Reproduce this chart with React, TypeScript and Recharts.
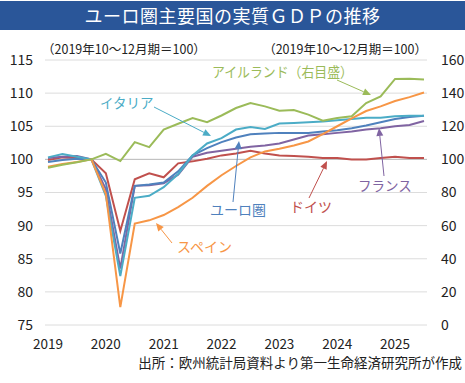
import { LineChart, Line, XAxis, YAxis, CartesianGrid, ReferenceLine } from "recharts";

// 2019Q1 .. 2025Q3, 2019年10～12月期＝100
const quarters = [
  "2019Q1", "2019Q2", "2019Q3", "2019Q4",
  "2020Q1", "2020Q2", "2020Q3", "2020Q4",
  "2021Q1", "2021Q2", "2021Q3", "2021Q4",
  "2022Q1", "2022Q2", "2022Q3", "2022Q4",
  "2023Q1", "2023Q2", "2023Q3", "2023Q4",
  "2024Q1", "2024Q2", "2024Q3", "2024Q4",
  "2025Q1", "2025Q2", "2025Q3",
];

const germany = [99.9, 100.3, 100.2, 100, 97.9, 89.2, 97, 97.9, 97.3, 99.4, 99.7, 100.1, 100.6, 100.9, 101.3, 100.9, 100.6, 100.5, 100.4, 100.2, 100.2, 100.0, 100.0, 100.2, 100.4, 100.2, 100.2];
const france = [100.2, 100.4, 100.5, 100, 95.5, 83.5, 96, 96.1, 96.4, 97.7, 100.4, 101, 101.3, 101.6, 101.9, 102.1, 102.4, 103, 103.6, 103.8, 104.0, 104.2, 104.5, 104.7, 105, 105.2, 105.8];
const euroArea = [99.6, 99.9, 100.1, 100, 96.5, 85.8, 96, 96.2, 96.5, 98.2, 100.6, 101.7, 102.6, 103.3, 103.8, 103.9, 104, 104, 104, 104.2, 104.4, 104.7, 105.1, 105.6, 106.1, 106.4, 106.6];
const italy = [100.3, 100.8, 100.4, 100, 94.5, 82.4, 94.2, 94.5, 95.8, 97.8, 100.6, 102.4, 103.2, 104.5, 104.9, 104.6, 105.4, 105.5, 105.6, 105.7, 105.9, 106.1, 106.3, 106.3, 106.5, 106.6, 106.6];
const spain = [98.9, 99.3, 99.6, 100, 94.8, 77.7, 90.3, 90.8, 91.6, 92.8, 94.2, 96.0, 97.6, 99.0, 100.3, 101.2, 101.6, 102.1, 102.7, 103.8, 105.0, 106.2, 107.3, 108.0, 108.8, 109.4, 110.1];
// right axis
const ireland = [95, 96.7, 98.3, 100, 103.3, 99, 110.4, 107.4, 118, 121.5, 125, 122.5, 126.5, 131, 134, 132, 129.4, 129.8, 127, 123.3, 125, 126, 134, 138, 148.6, 148.7, 148.2];

const leftTicks = [75, 80, 85, 90, 95, 100, 105, 110, 115];
const rightTicks = [0, 20, 40, 60, 80, 100, 120, 140, 160];

const data = quarters.map((q, i) => ({
  q,
  germany: germany[i],
  france: france[i],
  euroArea: euroArea[i],
  italy: italy[i],
  spain: spain[i],
  ireland: ireland[i],
}));

const FONT = "'Liberation Sans Narrow', 'Arial Narrow', 'Noto Sans CJK JP', sans-serif";
const JP = "'Noto Sans CJK JP', sans-serif";

const C = {
  germany: "#c0504d",
  france: "#8064a2",
  euroArea: "#4f81bd",
  italy: "#4bacc6",
  spain: "#f79646",
  ireland: "#9bbb59",
};

const tickStyle = { fontSize: 14, fill: "#222", fontFamily: FONT };

function Arrow({ x1, y1, x2, y2, color }: { x1: number; y1: number; x2: number; y2: number; color: string }) {
  const a = Math.atan2(y2 - y1, x2 - x1);
  const len = 8;
  const w = 3.5;
  const bx = x2 - len * Math.cos(a);
  const by = y2 - len * Math.sin(a);
  const px = -Math.sin(a) * w;
  const py = Math.cos(a) * w;
  return (
    <g>
      <line x1={x1} y1={y1} x2={bx} y2={by} stroke={color} strokeWidth={1} />
      <polygon points={`${x2},${y2} ${bx + px},${by + py} ${bx - px},${by - py}`} fill={color} />
    </g>
  );
}

export default function App() {
  return (
    <div style={{ position: "absolute", left: 0, top: 0, width: 465, height: 383, background: "#fff" }}>
      <div
        style={{
          position: "absolute",
          left: 0,
          top: 1,
          width: 465,
          height: 29,
          background: "#2a5699",
          color: "#fff",
          fontFamily: JP,
          fontSize: 18,
          lineHeight: "29px",
          textAlign: "center",
          letterSpacing: 0.5,
        }}
      >
        ユーロ圏主要国の実質ＧＤＰの推移
      </div>
      <div style={{ position: "absolute", left: 0, top: 0 }}>
        <LineChart width={465} height={383} data={data} margin={{ top: 60, right: 0, bottom: 38, left: 0 }}>
          <CartesianGrid yAxisId="left" vertical={false} stroke="#dcdcdc" />
          <XAxis
            dataKey="q"
            interval={3}
            tickFormatter={(v: string) => v.slice(0, 4)}
            tickLine={false}
            axisLine={false}
            padding={{ left: 3, right: 3 }}
            height={20}
            tick={{ ...tickStyle, fontSize: 13.5 }}
            tickMargin={8}
          />
          <YAxis
            yAxisId="left"
            domain={[75, 115]}
            ticks={leftTicks}
            width={45}
            tickLine={false}
            axisLine={false}
            tick={tickStyle}
            tickMargin={6}
          />
          <YAxis
            yAxisId="right"
            orientation="right"
            domain={[0, 160]}
            ticks={rightTicks}
            width={38}
            tickLine={false}
            axisLine={false}
            tick={{ ...tickStyle, textAnchor: "start" }}
            tickMargin={8}
          />
          <ReferenceLine yAxisId="left" y={100} stroke="#bdbdbd" />
          <Line yAxisId="left" dataKey="germany" stroke={C.germany} strokeWidth={2} dot={false} isAnimationActive={false} />
          <Line yAxisId="left" dataKey="france" stroke={C.france} strokeWidth={2} dot={false} isAnimationActive={false} />
          <Line yAxisId="left" dataKey="euroArea" stroke={C.euroArea} strokeWidth={2} dot={false} isAnimationActive={false} />
          <Line yAxisId="left" dataKey="italy" stroke={C.italy} strokeWidth={2} dot={false} isAnimationActive={false} />
          <Line yAxisId="left" dataKey="spain" stroke={C.spain} strokeWidth={2} dot={false} isAnimationActive={false} />
          <Line yAxisId="right" dataKey="ireland" stroke={C.ireland} strokeWidth={2} dot={false} isAnimationActive={false} />
        </LineChart>
      </div>
      <svg width={465} height={383} style={{ position: "absolute", left: 0, top: 0, pointerEvents: "none" }}>
        <text x={42} y={54} fontSize={12.5} fontFamily={FONT} fill="#222">（2019年10～12月期＝100）</text>
        <text x={427} y={54} fontSize={12.5} fontFamily={FONT} fill="#222" textAnchor="end">（2019年10～12月期＝100）</text>

        <text x={212} y={77} fontSize={14} fontFamily={JP} fill={C.ireland} textLength={141} lengthAdjust="spacingAndGlyphs">アイルランド（右目盛）</text>
        <Arrow x1={337} y1={80} x2={371} y2={95} color={C.ireland} />

        <text x={100} y={108} fontSize={13.5} fontFamily={JP} fill={C.italy}>イタリア</text>
        <Arrow x1={154} y1={107} x2={211} y2={136} color={C.italy} />

        <text x={210} y={215} fontSize={14} fontFamily={JP} fill={C.euroArea}>ユーロ圏</text>
        <Arrow x1={233} y1={202} x2={239} y2={141} color={C.euroArea} />

        <text x={290} y={212} fontSize={14} fontFamily={JP} fill={C.germany}>ドイツ</text>
        <Arrow x1={309} y1={198} x2={327} y2={161} color={C.germany} />

        <text x={358} y={191} fontSize={13.5} fontFamily={JP} fill={C.france}>フランス</text>
        <Arrow x1={384} y1={176} x2={379} y2={128} color={C.france} />

        <text x={177} y={252} fontSize={14} fontFamily={JP} fill={C.spain}>スペイン</text>
        <Arrow x1={172} y1={243} x2={156} y2={223} color={C.spain} />

        <text x={462} y={368} fontSize={13.5} fontFamily={JP} fill="#222" textAnchor="end">出所：欧州統計局資料より第一生命経済研究所が作成</text>
      </svg>
    </div>
  );
}
